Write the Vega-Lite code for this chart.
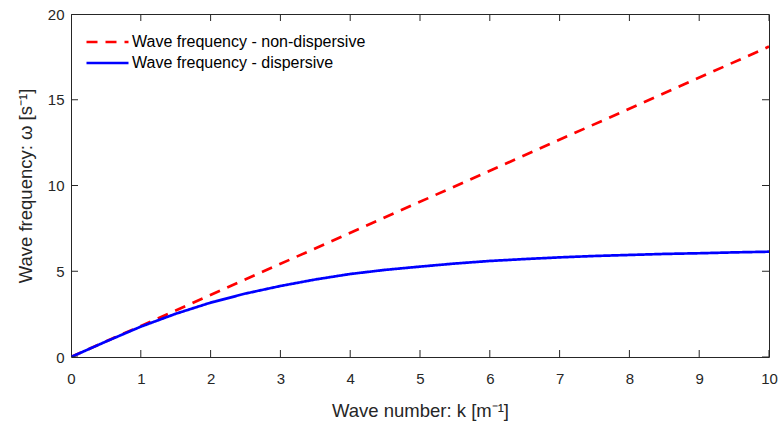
{
  "$schema": "https://vega.github.io/schema/vega-lite/v6.json",
  "width": 698,
  "height": 343,
  "autosize": {"type": "none"},
  "padding": {"left": 71, "top": 14, "right": 12, "bottom": 72},
  "background": "white",
  "config": {
    "view": {"stroke": "#262626", "strokeWidth": 1, "fill": null},
    "font": "Liberation Sans",
    "axis": {
      "domain": false,
      "ticks": false,
      "grid": false,
      "labelColor": "#262626",
      "titleColor": "#262626",
      "labelFont": "Liberation Sans",
      "titleFont": "Liberation Sans",
      "labelFontSize": 15,
      "titleFontSize": 18.5,
      "titleFontWeight": "normal",
      "labelFlush": false
    },
    "axisX": {
      "orient": "bottom",
      "labelPadding": 14, "titleBaseline": "alphabetic", "titleY": 59
    },
    "axisY": {
      "orient": "left",
      "labelPadding": 7, "titleBaseline": "alphabetic", "titleX": -40
    }
  },
  "datasets": {
    "curves": [
      {"k": 0, "w": 0, "series": "Wave frequency - non-dispersive"},
      {"k": 10, "w": 18.1, "series": "Wave frequency - non-dispersive"},
      {"k": 0, "w": 0, "series": "Wave frequency - dispersive"},
      {"k": 0.5, "w": 0.9, "series": "Wave frequency - dispersive"},
      {"k": 1, "w": 1.77, "series": "Wave frequency - dispersive"},
      {"k": 1.5, "w": 2.52, "series": "Wave frequency - dispersive"},
      {"k": 2, "w": 3.17, "series": "Wave frequency - dispersive"},
      {"k": 2.5, "w": 3.7, "series": "Wave frequency - dispersive"},
      {"k": 3, "w": 4.14, "series": "Wave frequency - dispersive"},
      {"k": 3.5, "w": 4.52, "series": "Wave frequency - dispersive"},
      {"k": 4, "w": 4.84, "series": "Wave frequency - dispersive"},
      {"k": 4.5, "w": 5.08, "series": "Wave frequency - dispersive"},
      {"k": 5, "w": 5.27, "series": "Wave frequency - dispersive"},
      {"k": 5.5, "w": 5.45, "series": "Wave frequency - dispersive"},
      {"k": 6, "w": 5.6, "series": "Wave frequency - dispersive"},
      {"k": 6.5, "w": 5.71, "series": "Wave frequency - dispersive"},
      {"k": 7, "w": 5.81, "series": "Wave frequency - dispersive"},
      {"k": 7.5, "w": 5.89, "series": "Wave frequency - dispersive"},
      {"k": 8, "w": 5.95, "series": "Wave frequency - dispersive"},
      {"k": 8.5, "w": 6.01, "series": "Wave frequency - dispersive"},
      {"k": 9, "w": 6.05, "series": "Wave frequency - dispersive"},
      {"k": 9.5, "w": 6.1, "series": "Wave frequency - dispersive"},
      {"k": 10, "w": 6.14, "series": "Wave frequency - dispersive"}
    ],
    "xticks": [{"t": 0}, {"t": 1}, {"t": 2}, {"t": 3}, {"t": 4}, {"t": 5}, {"t": 6}, {"t": 7}, {"t": 8}, {"t": 9}, {"t": 10}],
    "yticks": [{"t": 0}, {"t": 5}, {"t": 10}, {"t": 15}, {"t": 20}]
  },
  "data": {"name": "curves"},
  "layer": [
    {
      "mark": {"type": "line", "strokeWidth": 2.7, "clip": true},
      "encoding": {
        "x": {
          "field": "k", "type": "quantitative",
          "scale": {"domain": [0, 10], "nice": false},
          "axis": {"title": "Wave number: k [m⁻¹]", "values": [0,1,2,3,4,5,6,7,8,9,10], "format": "d"}
        },
        "y": {
          "field": "w", "type": "quantitative",
          "scale": {"domain": [0, 20], "nice": false},
          "axis": {"title": "Wave frequency: ω [s⁻¹]", "values": [0,5,10,15,20], "format": "d"}
        },
        "color": {
          "field": "series", "type": "nominal",
          "scale": {"domain": ["Wave frequency - non-dispersive", "Wave frequency - dispersive"], "range": ["#ff0000", "#0000ff"]},
          "legend": {
            "title": null,
            "orient": "none",
            "legendX": 14,
            "legendY": 20,
            "symbolType": "stroke",
            "symbolSize": 1764,
            "symbolStrokeWidth": 2.7,
            "labelFont": "Liberation Sans",
            "labelFontSize": 16,
            "labelColor": "#000000",
            "labelLimit": 400,
            "labelOffset": 2,
            "clipHeight": 16,
            "rowPadding": 5,
            "fillColor": "white"
          }
        },
        "strokeDash": {
          "field": "series", "type": "nominal",
          "scale": {"domain": ["Wave frequency - non-dispersive", "Wave frequency - dispersive"], "range": [[11, 8], [1, 0]]},
          "legend": null
        }
      }
    },
    {
      "data": {"name": "xticks"},
      "mark": {"type": "tick", "orient": "vertical", "size": 14, "thickness": 1, "color": "#262626", "opacity": 1, "clip": true},
      "encoding": {
        "x": {"field": "t", "type": "quantitative", "axis": {"title": "Wave number: k [m⁻¹]", "values": [0,1,2,3,4,5,6,7,8,9,10], "format": "d"}},
        "y": {"datum": 0, "type": "quantitative", "axis": {"title": "Wave frequency: ω [s⁻¹]", "values": [0,5,10,15,20], "format": "d"}}
      }
    },
    {
      "data": {"name": "xticks"},
      "mark": {"type": "tick", "orient": "vertical", "size": 14, "thickness": 1, "color": "#262626", "opacity": 1, "clip": true},
      "encoding": {
        "x": {"field": "t", "type": "quantitative", "axis": {"title": "Wave number: k [m⁻¹]", "values": [0,1,2,3,4,5,6,7,8,9,10], "format": "d"}},
        "y": {"datum": 20, "type": "quantitative", "axis": {"title": "Wave frequency: ω [s⁻¹]", "values": [0,5,10,15,20], "format": "d"}}
      }
    },
    {
      "data": {"name": "yticks"},
      "mark": {"type": "tick", "orient": "horizontal", "size": 14, "thickness": 1, "color": "#262626", "opacity": 1, "clip": true},
      "encoding": {
        "y": {"field": "t", "type": "quantitative", "axis": {"title": "Wave frequency: ω [s⁻¹]", "values": [0,5,10,15,20], "format": "d"}},
        "x": {"datum": 0, "type": "quantitative", "axis": {"title": "Wave number: k [m⁻¹]", "values": [0,1,2,3,4,5,6,7,8,9,10], "format": "d"}}
      }
    },
    {
      "data": {"name": "yticks"},
      "mark": {"type": "tick", "orient": "horizontal", "size": 14, "thickness": 1, "color": "#262626", "opacity": 1, "clip": true},
      "encoding": {
        "y": {"field": "t", "type": "quantitative", "axis": {"title": "Wave frequency: ω [s⁻¹]", "values": [0,5,10,15,20], "format": "d"}},
        "x": {"datum": 10, "type": "quantitative", "axis": {"title": "Wave number: k [m⁻¹]", "values": [0,1,2,3,4,5,6,7,8,9,10], "format": "d"}}
      }
    }
  ]
}
